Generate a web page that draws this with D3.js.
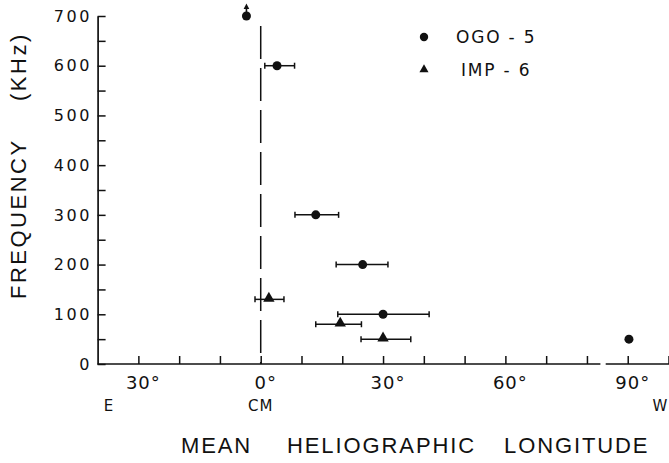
<!DOCTYPE html>
<html>
<head>
<meta charset="utf-8">
<script src="https://cdnjs.cloudflare.com/ajax/libs/d3/7.8.5/d3.min.js"></script>
<style>
  body { margin: 0; background: #fff; }
  svg { display: block; }
</style>
</head>
<body>
<script>
// size of the picture
var width = 669,
    height = 463;

// OGO-5 points: longitude (deg, + is west), frequency (kHz), error bar ends
var ogoLon  = [-3.5, 4, 13.5, 25, 30, 90.3];
var ogoFreq = [700, 600, 300, 200, 100, 50];
var ogoLo   = [null, 1, 8.4, 18.5, 18.9, null];
var ogoHi   = [null, 8.3, 19.1, 31.2, 41.3, null];

// IMP-6 points
var impLon  = [2, 19.5, 30];
var impFreq = [130, 80, 50];
var impLo   = [-1.4, 13.5, 24.6];
var impHi   = [5.7, 24.7, 36.8];

// the 700 kHz point has an arrow on top (higher than plotted)
var arrowLon  = [-3.5];
var arrowFreq = [700];

// ticks
var xTickValues = [-30, 0, 30, 60, 90];
var xTickLabels = ['30°', '0°', '30°', '60°', '90°'];
var xMinorTicks = d3.range(-30, 101, 10);
var yTickValues = [0, 100, 200, 300, 400, 500, 600, 700];
var yMinorTicks = d3.range(0, 701, 50);

var ink = '#111';

var svg = d3.select('body')
  .append('svg')
  .attr('width', width)
  .attr('height', height);

// scales
var x = d3.scaleLinear().domain([-40, 100]).range([97.6, 668.5]);
var y = d3.scaleLinear().domain([0, 700]).range([364, 16]);

// y axis, ticks pointing inwards, labels drawn by hand below
svg.append('g')
  .attr('transform', 'translate(' + x(-40) + ',0)')
  .call(d3.axisRight(y).tickValues(yMinorTicks).tickSize(8).tickSizeOuter(0).tickFormat(''))
  .call(function(g) {
    g.select('.domain').attr('stroke', ink).attr('stroke-width', 1.7);
    g.selectAll('.tick line').attr('stroke', ink).attr('stroke-width', 1.5);
  });

svg.append('g')
  .selectAll('text')
  .data(yTickValues)
  .enter()
  .append('text')
  .attr('x', 92)
  .attr('y', function(d) { return y(d); })
  .attr('dy', '0.36em')
  .attr('text-anchor', 'end')
  .attr('font-family', 'DejaVu Sans, sans-serif')
  .attr('font-size', 16)
  .attr('letter-spacing', 2.6)
  .attr('fill', ink)
  .text(function(d) { return d; });

// x axis: ticks upward, domain replaced by a line with a small break
svg.append('g')
  .attr('transform', 'translate(0,' + y(0) + ')')
  .call(d3.axisTop(x).tickValues(xMinorTicks).tickSize(8).tickSizeOuter(0).tickFormat(''))
  .call(function(g) {
    g.select('.domain').remove();
    g.selectAll('.tick line').attr('stroke', ink).attr('stroke-width', 1.5);
  });

var axisPieces = [[-40, 83.3], [84.6, 100.2]];
svg.append('g')
  .selectAll('line')
  .data(axisPieces)
  .enter()
  .append('line')
  .attr('x1', function(d) { return x(d[0]); })
  .attr('x2', function(d) { return x(d[1]); })
  .attr('y1', y(0))
  .attr('y2', y(0))
  .attr('stroke', ink)
  .attr('stroke-width', 1.7);

svg.append('g')
  .selectAll('text')
  .data(xTickValues)
  .enter()
  .append('text')
  .attr('x', function(d) { return x(d) + 5; })
  .attr('y', 389)
  .attr('text-anchor', 'middle')
  .attr('font-family', 'DejaVu Sans, sans-serif')
  .attr('font-size', 18)
  .attr('letter-spacing', 1)
  .attr('fill', ink)
  .text(function(d, i) { return xTickLabels[i]; });

// E / CM / W under the axis
var sideLabels = [{t: 'E', at: -38.5, a: 'start'}, {t: 'CM', at: 0, a: 'middle'}, {t: 'W', at: 96.1, a: 'start'}];
svg.append('g')
  .selectAll('text')
  .data(sideLabels)
  .enter()
  .append('text')
  .attr('x', function(d) { return x(d.at); })
  .attr('y', 411)
  .attr('text-anchor', function(d) { return d.a; })
  .attr('font-family', 'DejaVu Sans, sans-serif')
  .attr('font-size', 15)
  .attr('letter-spacing', function(d) { return d.t === 'W' ? 0 : 1; })
  .attr('fill', ink)
  .text(function(d) { return d.t; });

// axis titles
var xTitle = svg.append('text')
  .attr('y', 453)
  .attr('font-family', 'Liberation Sans, Arial, sans-serif')
  .attr('font-size', 22)
  .attr('letter-spacing', 1.9)
  .attr('fill', ink);
xTitle.append('tspan').attr('x', 181).text('MEAN');
xTitle.append('tspan').attr('x', 287).text('HELIOGRAPHIC');
xTitle.append('tspan').attr('x', 504).text('LONGITUDE');

var yTitle = svg.append('text')
  .attr('transform', 'translate(26,0) rotate(-90)')
  .attr('font-family', 'Liberation Sans, Arial, sans-serif')
  .attr('font-size', 22)
  .attr('letter-spacing', 2.5)
  .attr('fill', ink);
yTitle.append('tspan').attr('x', -299).text('FREQUENCY');
yTitle.append('tspan').attr('x', -101).text('(KHz)');

// central meridian dashed line
svg.append('line')
  .attr('x1', x(0))
  .attr('x2', x(0))
  .attr('y1', 26)
  .attr('y2', y(0))
  .attr('stroke', ink)
  .attr('stroke-width', 1.5)
  .attr('stroke-dasharray', '33,9');

// build point lists from the arrays
var ogo = ogoLon.map(function(d, i) {
  return {lon: d, freq: ogoFreq[i], lo: ogoLo[i], hi: ogoHi[i]};
});
var imp = impLon.map(function(d, i) {
  return {lon: d, freq: impFreq[i], lo: impLo[i], hi: impHi[i]};
});

// error bars for both series
var bars = ogo.concat(imp).filter(function(d) { return d.lo !== null; });
var eb = svg.append('g').attr('stroke', ink).attr('stroke-width', 1.5);
eb.selectAll('line.bar')
  .data(bars)
  .enter()
  .append('line')
  .attr('class', 'bar')
  .attr('x1', function(d) { return x(d.lo); })
  .attr('x2', function(d) { return x(d.hi); })
  .attr('y1', function(d) { return y(d.freq); })
  .attr('y2', function(d) { return y(d.freq); });
// little caps at both ends
eb.selectAll('line.capl')
  .data(bars)
  .enter()
  .append('line')
  .attr('class', 'capl')
  .attr('x1', function(d) { return x(d.lo); })
  .attr('x2', function(d) { return x(d.lo); })
  .attr('y1', function(d) { return y(d.freq) - 3; })
  .attr('y2', function(d) { return y(d.freq) + 3; });
eb.selectAll('line.caph')
  .data(bars)
  .enter()
  .append('line')
  .attr('class', 'caph')
  .attr('x1', function(d) { return x(d.hi); })
  .attr('x2', function(d) { return x(d.hi); })
  .attr('y1', function(d) { return y(d.freq) - 3; })
  .attr('y2', function(d) { return y(d.freq) + 3; });

// OGO-5 dots
svg.append('g')
  .selectAll('circle')
  .data(ogo)
  .enter()
  .append('circle')
  .attr('cx', function(d) { return x(d.lon); })
  .attr('cy', function(d) { return y(d.freq); })
  .attr('r', 4.5)
  .attr('fill', ink);

// IMP-6 triangles
var tri = d3.symbol().type(d3.symbolTriangle).size(56);
svg.append('g')
  .selectAll('path')
  .data(imp)
  .enter()
  .append('path')
  .attr('d', tri)
  .attr('transform', function(d) { return 'translate(' + x(d.lon) + ',' + (y(d.freq) - 1) + ')'; })
  .attr('fill', ink);

// arrow on the 700 kHz point
var arrows = svg.append('g').selectAll('g')
  .data(arrowLon)
  .enter()
  .append('g')
  .attr('transform', function(d, i) { return 'translate(' + x(d) + ',' + y(arrowFreq[i]) + ')'; });
arrows.append('line')
  .attr('y1', -3).attr('y2', -9)
  .attr('stroke', ink).attr('stroke-width', 1.6);
arrows.append('path')
  .attr('d', 'M0,-12.5L2.8,-7L-2.8,-7Z')
  .attr('fill', ink);

// legend
var legend = svg.append('g');
legend.append('circle')
  .attr('cx', 424).attr('cy', 37).attr('r', 4.2).attr('fill', ink);
legend.append('path')
  .attr('d', d3.symbol().type(d3.symbolTriangle).size(36))
  .attr('transform', 'translate(424,69.5)')
  .attr('fill', ink);
legend.selectAll('text')
  .data(['OGO - 5', 'IMP - 6'])
  .enter()
  .append('text')
  .attr('x', function(d, i) { return i === 0 ? 456 : 461; })
  .attr('y', function(d, i) { return i === 0 ? 43 : 76; })
  .attr('font-family', 'DejaVu Sans, sans-serif')
  .attr('font-size', 17)
  .attr('letter-spacing', 1.8)
  .attr('xml:space', 'preserve')
  .attr('fill', ink)
  .text(function(d) { return d; });
</script>
</body>
</html>
